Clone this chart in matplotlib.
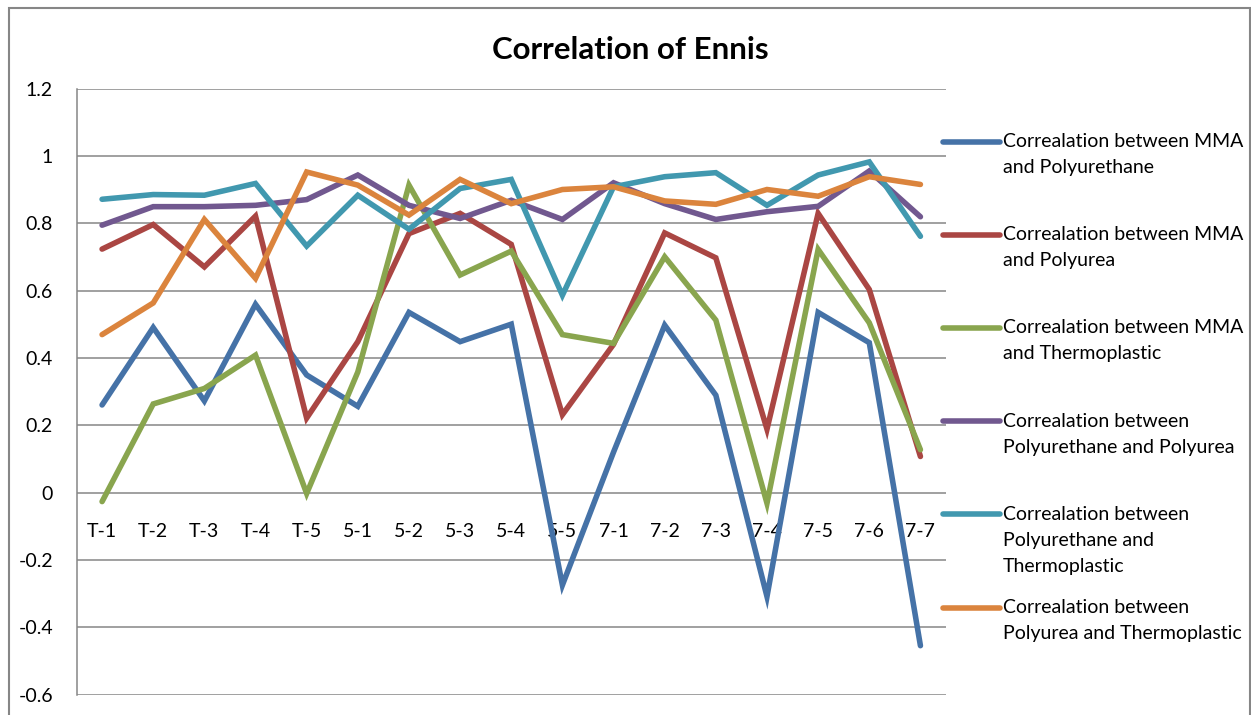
import matplotlib
matplotlib.use('Agg')
from matplotlib import pyplot as plt
from matplotlib.lines import Line2D
from matplotlib.patches import Rectangle

plt.rcParams['font.family'] = ['Lato', 'DejaVu Sans']

samples = ['T-1', 'T-2', 'T-3', 'T-4', 'T-5', '5-1', '5-2', '5-3', '5-4', '5-5',
           '7-1', '7-2', '7-3', '7-4', '7-5', '7-6', '7-7']

mma_polyurethane = [0.26, 0.49, 0.272, 0.559, 0.349, 0.256, 0.535, 0.448, 0.50, -0.275,
                    0.12, 0.497, 0.289, -0.309, 0.535, 0.445, -0.455]
mma_polyurea = [0.723, 0.796, 0.670, 0.821, 0.221, 0.448, 0.769, 0.829, 0.737, 0.231,
                0.44, 0.771, 0.697, 0.188, 0.829, 0.603, 0.107]
mma_thermoplastic = [-0.027, 0.263, 0.309, 0.408, -0.003, 0.358, 0.913, 0.646, 0.717, 0.469,
                     0.443, 0.700, 0.512, -0.032, 0.722, 0.504, 0.127]
polyurethane_polyurea = [0.794, 0.849, 0.849, 0.853, 0.870, 0.943, 0.853, 0.814, 0.868, 0.811,
                         0.920, 0.858, 0.811, 0.834, 0.850, 0.955, 0.819]
polyurethane_thermoplastic = [0.871, 0.885, 0.883, 0.918, 0.732, 0.883, 0.782, 0.903, 0.930, 0.586,
                              0.908, 0.938, 0.950, 0.853, 0.943, 0.982, 0.761]
polyurea_thermoplastic = [0.469, 0.563, 0.811, 0.636, 0.952, 0.913, 0.824, 0.930, 0.858, 0.900,
                          0.908, 0.866, 0.856, 0.900, 0.880, 0.938, 0.915]

series_labels = ['Correalation between MMA\nand Polyurethane',
                 'Correalation between MMA\nand Polyurea',
                 'Correalation between MMA\nand Thermoplastic',
                 'Correalation between\nPolyurethane and Polyurea',
                 'Correalation between\nPolyurethane and\nThermoplastic',
                 'Correalation between\nPolyurea and Thermoplastic']
series_colors = ['#4572A7', '#AA4643', '#89A54E', '#71588F', '#4198AF', '#DB843D']

W, H = 1251, 715
fig = plt.figure(figsize=(W / 100, H / 100), dpi=100)
ax = fig.add_axes([76.5 / W, 1 - 694.5 / H, (946 - 76.5) / W, (694.5 - 88.5) / H])

grid_color = '#868686'
x = list(range(len(samples)))
all_series = [mma_polyurethane, mma_polyurea, mma_thermoplastic,
              polyurethane_polyurea, polyurethane_thermoplastic, polyurea_thermoplastic]
for values, color in zip(all_series, series_colors):
    ax.plot(x, values, color=color, lw=4.0, solid_capstyle='round', solid_joinstyle='miter', zorder=3)

ax.set_xlim(-0.5, len(samples) - 0.5)
ax.set_ylim(-0.6, 1.2)
ax.set_yticks([-0.6, -0.4, -0.2, 0, 0.2, 0.4, 0.6, 0.8, 1.0, 1.2])
ax.set_yticklabels(['-0.6', '-0.4', '-0.2', '0', '0.2', '0.4', '0.6', '0.8', '1', '1.2'])
ax.yaxis.grid(True, color=grid_color, lw=1.1)
ax.set_axisbelow(True)

# category labels hang off the zero line
ax.spines['bottom'].set_position(('data', 0))
ax.spines['bottom'].set_visible(False)
ax.spines['top'].set_visible(False)
ax.spines['right'].set_visible(False)
ax.spines['left'].set_color(grid_color)
ax.spines['left'].set_linewidth(1.1)
ax.set_xticks(x)
ax.set_xticklabels(samples)
ax.tick_params(axis='x', length=0, pad=22, labelsize=14)
ax.tick_params(axis='y', length=0, pad=17, labelsize=14)

fig.text(630 / W, 1 - 50 / H, 'Correlation of Ennis', ha='center', va='center',
         fontsize=22.5, fontweight='bold')

# legend, handle lined up with the first text line
for i, (label, color) in enumerate(zip(series_labels, series_colors)):
    y0 = 141.5 + i * 93.2
    fig.add_artist(Line2D([943 / W, 1000 / W], [1 - y0 / H, 1 - y0 / H], transform=fig.transFigure,
                          color=color, lw=4.0, solid_capstyle='round'))
    for k, line in enumerate(label.split('\n')):
        fig.text(1003 / W, 1 - (y0 + k * 26) / H, line, ha='left', va='center', fontsize=14)

fig.add_artist(Rectangle((8.5 / W, -0.05), (1250 - 8.5) / W, 1.05 - 8.5 / H, transform=fig.transFigure,
                         fill=False, edgecolor=grid_color, lw=1.5, clip_on=False))

plt.savefig('out.png', dpi=100)
